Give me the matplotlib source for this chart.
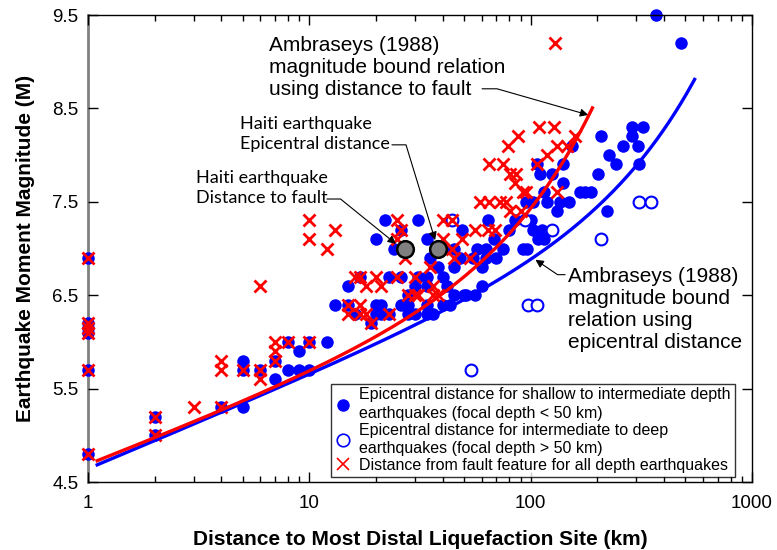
import numpy as np
import matplotlib
matplotlib.use('Agg')
import matplotlib.pyplot as plt
from matplotlib.lines import Line2D
from matplotlib.ticker import LogLocator, FixedLocator, FixedFormatter, NullFormatter

plt.rcParams['font.family'] = ['Liberation Sans', 'DejaVu Sans']

# Epicentral distance, shallow to intermediate depth (filled blue)
raso_dist = [1, 1, 1, 1, 1, 1, 2, 2, 4, 5, 5, 5, 6, 7, 7, 8, 8, 9, 9, 10, 10, 12,
             13, 15, 15, 16, 17, 19, 20, 20, 20, 21, 21, 22, 23, 23, 24, 26, 26, 26,
             28, 28, 28, 30, 30, 31, 31, 34, 34, 34, 34, 34, 35, 36, 38, 40, 40, 40,
             42, 43, 45, 45, 45, 48, 49, 50, 51, 55, 56, 57, 60, 60, 63, 63, 64, 68,
             70, 75, 80, 85, 92, 96, 95, 100, 102, 102, 107, 108, 110, 112, 115, 115,
             119, 125, 131, 135, 140, 140, 149, 154, 167, 175, 188, 202, 208, 220,
             225, 244, 262, 287, 287, 305, 307, 322, 369, 479]
raso_mag = [6.9, 6.2, 6.15, 6.1, 5.7, 4.8, 5.2, 5.0, 5.3, 5.8, 5.7, 5.3, 5.7, 5.8, 5.6,
            6.0, 5.7, 5.9, 5.7, 6.0, 5.7, 6.0, 6.4, 6.6, 6.4, 6.3, 6.7, 6.2, 6.4, 6.3,
            7.1, 6.4, 6.3, 7.3, 6.7, 6.3, 7.0, 7.2, 6.7, 6.4, 6.5, 6.4, 6.3, 6.6, 6.3,
            6.7, 7.3, 6.7, 7.1, 6.3, 6.6, 6.4, 6.9, 6.3, 6.8, 6.7, 7.0, 6.4, 6.6, 6.4,
            6.8, 7.0, 6.5, 6.9, 7.2, 6.5, 6.5, 6.9, 6.5, 7.0, 6.6, 6.8, 6.9, 7.0, 7.3,
            7.1, 6.9, 7.0, 7.2, 7.3, 7.0, 7.0, 7.5, 7.3, 7.2, 7.5, 7.9, 7.1, 7.8, 7.2,
            7.1, 7.6, 7.5, 7.8, 7.4, 7.5, 7.9, 7.7, 7.5, 8.1, 7.6, 7.6, 7.6, 7.8, 8.2,
            7.4, 8.0, 7.9, 8.1, 8.3, 8.2, 8.1, 7.9, 8.3, 9.5, 9.2]

# Epicentral distance, intermediate to deep (open blue)
profundo_dist = [44, 94, 125, 97, 107, 54, 309, 350, 208]
profundo_mag = [7.3, 7.3, 7.2, 6.4, 6.4, 5.7, 7.5, 7.5, 7.1]

# Distance from fault feature, all depths (red x)
falha_dist = [1, 1, 1, 1, 1, 1, 2, 2, 3, 4, 4, 4, 5, 6, 6, 6, 7, 7, 7, 8, 10, 10, 10,
              12, 13, 15, 15, 16, 17, 17, 17, 18, 18, 19, 20, 21, 23, 25, 25, 25, 26,
              27, 28, 30, 30, 31, 35, 36, 36, 38, 40, 40, 44, 44, 45, 49, 53, 56, 59,
              64, 65, 65, 69, 73, 75, 77, 79, 81, 81, 85, 86, 88, 90, 92, 95, 107,
              109, 119, 128, 129, 131, 131, 146, 158]
falha_mag = [6.9, 6.2, 6.15, 6.1, 5.7, 4.8, 5.2, 5.0, 5.3, 5.3, 5.8, 5.7, 5.7, 5.7,
             5.6, 6.6, 6.0, 5.9, 5.8, 6.0, 6.0, 7.3, 7.1, 7.0, 7.2, 6.4, 6.3, 6.7, 6.7,
             6.4, 6.3, 6.6, 6.3, 6.2, 6.7, 6.6, 6.3, 7.3, 7.1, 6.7, 7.2, 6.9, 6.5, 6.7,
             6.5, 6.5, 6.8, 6.6, 6.5, 6.5, 7.3, 7.1, 7.3, 7.0, 6.9, 7.1, 6.9, 7.2, 7.5,
             7.2, 7.5, 7.9, 7.2, 7.5, 7.9, 7.5, 8.1, 7.4, 7.8, 7.7, 7.8, 8.2, 7.4, 7.6,
             7.6, 7.9, 8.3, 8.0, 8.3, 9.2, 7.6, 8.1, 8.1, 8.2]

# Haiti earthquake (fault distance, epicentral distance)
haiti_dist = [27, 38]
haiti_mag = [7.0, 7.0]

# Ambraseys (1988) bound relations: M = a + b*log10(R) + c*R
amb_epi = (4.64, 0.99, 2.65e-3)
amb_falha = (4.68, 0.92, 9.1e-3)
r_epi = np.logspace(np.log10(1.1), np.log10(550), 300)
r_falha = np.logspace(np.log10(1.1), np.log10(190), 300)

def ambraseys(r, coef):
    a, b, c = coef
    return a + b * np.log10(r) + c * r

azul = '#0000FF'
verm = '#FF0000'

fig = plt.figure(figsize=(7.77, 5.50), dpi=100)
ax = fig.add_axes([0.1133, 0.1236, 0.8546, 0.8491])

ax.plot(raso_dist, raso_mag, 'o', color=azul, ms=9, mec='none', zorder=2, clip_on=False)
ax.plot(profundo_dist, profundo_mag, 'o', mfc='white', mec=azul, mew=1.5, ms=8.5, zorder=2)
ax.plot(falha_dist, falha_mag, 'x', color=verm, ms=9, mew=2, zorder=3, clip_on=False)
ax.plot(r_epi, ambraseys(r_epi, amb_epi), color=azul, lw=2.4, zorder=4)
ax.plot(r_falha, ambraseys(r_falha, amb_falha), color=verm, lw=2.4, zorder=5)
ax.plot(haiti_dist, haiti_mag, 'o', mfc='#808080', mec='black', mew=1.8, ms=12, zorder=6)

ax.set_xscale('log')
ax.set_xlim(1, 1000)
ax.set_ylim(4.5, 9.5)
ax.xaxis.set_major_locator(FixedLocator([1, 10, 100, 1000]))
ax.xaxis.set_major_formatter(FixedFormatter(['1', '10', '100', '1000']))
ax.xaxis.set_minor_locator(LogLocator(base=10, subs=np.arange(2, 10)))
ax.xaxis.set_minor_formatter(NullFormatter())
ax.set_yticks([4.5, 5.5, 6.5, 7.5, 8.5, 9.5])
ax.set_yticklabels(['4.5', '5.5', '6.5', '7.5', '8.5', '9.5'])
ax.tick_params(which='both', direction='in', top=True, right=True, labelsize=13.5)
ax.tick_params(axis='x', pad=9)
ax.tick_params(axis='y', pad=7)
ax.tick_params(which='major', length=7, width=1)
ax.tick_params(which='minor', length=4, width=1)

for lado in ['top', 'right', 'bottom']:
    ax.spines[lado].set_linewidth(1)
    ax.spines[lado].set_color('black')
ax.spines['left'].set_linewidth(2)
ax.spines['left'].set_color('#808080')
ax.spines['left'].set_zorder(0)

ax.set_xlabel('Distance to Most Distal Liquefaction Site (km)', fontsize=15,
              fontweight='bold', labelpad=13)
ax.set_ylabel('Earthquake Moment Magnitude (M)', fontsize=15, fontweight='bold',
              labelpad=12)

seta = dict(arrowstyle='-|>', color='black', lw=0.8, shrinkA=0, shrinkB=0,
            mutation_scale=12)

# textos e setas
ax.text(6.58, 8.94, 'Ambraseys (1988)\nmagnitude bound relation\nusing distance to fault',
        fontsize=15, ha='left', va='center', linespacing=1.2)
ax.annotate('', xy=(182, 8.43), xytext=(60.3, 8.71),
            arrowprops=dict(seta, connectionstyle='angle,angleA=0,angleB=-16,rad=0'))

ax.text(4.86, 8.226, 'Haiti earthquake\nEpicentral distance', fontsize=13,
        family=['Lato', 'DejaVu Sans'], ha='left', va='center', linespacing=1.25)
ax.annotate('', xy=(37.0, 7.09), xytext=(23.6, 8.11),
            arrowprops=dict(seta, connectionstyle='angle,angleA=0,angleB=-73,rad=0'))

ax.text(3.08, 7.648, 'Haiti earthquake\nDistance to fault', fontsize=13,
        family=['Lato', 'DejaVu Sans'], ha='left', va='center', linespacing=1.25)
ax.annotate('', xy=(24.6, 7.05), xytext=(12.0, 7.53),
            arrowprops=dict(seta, connectionstyle='angle,angleA=0,angleB=-39,rad=0'))

ax.text(147.6, 6.347, 'Ambraseys (1988)\nmagnitude bound\nrelation using\nepicentral distance',
        fontsize=15, ha='left', va='center', linespacing=1.2)
ax.annotate('', xy=(105, 6.88), xytext=(143, 6.72),
            arrowprops=dict(seta, connectionstyle='angle,angleA=180,angleB=146,rad=0'))

handles = [
    Line2D([], [], ls='none', marker='o', color=azul, mec='none', ms=9),
    Line2D([], [], ls='none', marker='o', mfc='white', mec=azul, mew=1.2, ms=9),
    Line2D([], [], ls='none', marker='x', color=verm, mew=1.2, ms=8),
]
rotulos = [
    'Epicentral distance for shallow to intermediate depth\nearthquakes (focal depth < 50 km)',
    'Epicentral distance for intermediate to deep\nearthquakes (focal depth > 50 km)',
    'Distance from fault feature for all depth earthquakes',
]
leg = ax.legend(handles, rotulos, loc='lower right', bbox_to_anchor=(0.974, 0.011),
                borderaxespad=0, fontsize=11.5, frameon=True, fancybox=False,
                handlelength=1.0, handletextpad=0.5, labelspacing=0.1,
                borderpad=0.25)
for t in leg.get_texts():
    t.set_linespacing(1.3)
leg.get_frame().set_edgecolor('black')
leg.get_frame().set_linewidth(1)
leg.set_zorder(10)

fig.savefig('out.png', dpi=100)
